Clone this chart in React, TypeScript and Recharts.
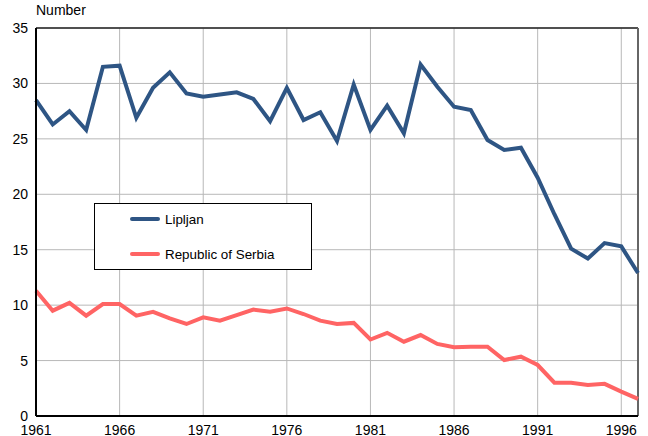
import React from 'react';
import {
  LineChart,
  Line,
  XAxis,
  YAxis,
  CartesianGrid,
  ReferenceLine,
} from 'recharts';

const years = [
  1961, 1962, 1963, 1964, 1965, 1966, 1967, 1968, 1969, 1970, 1971, 1972, 1973,
  1974, 1975, 1976, 1977, 1978, 1979, 1980, 1981, 1982, 1983, 1984, 1985, 1986,
  1987, 1988, 1989, 1990, 1991, 1992, 1993, 1994, 1995, 1996, 1997,
];

const lipljan = [
  28.5, 26.3, 27.5, 25.8, 31.5, 31.6, 26.9, 29.6, 31.0, 29.1, 28.8, 29.0, 29.2,
  28.6, 26.6, 29.6, 26.7, 27.4, 24.8, 29.9, 25.8, 28.0, 25.5, 31.7, 29.7, 27.9,
  27.6, 24.9, 24.0, 24.2, 21.5, 18.2, 15.1, 14.2, 15.6, 15.3, 12.9,
];

const serbia = [
  11.3, 9.5, 10.2, 9.05, 10.1, 10.1, 9.05, 9.4, 8.8, 8.3, 8.9, 8.6, 9.1, 9.6,
  9.4, 9.7, 9.2, 8.6, 8.3, 8.4, 6.9, 7.5, 6.7, 7.3, 6.5, 6.2, 6.25, 6.25, 5.05,
  5.35, 4.6, 3.0, 3.0, 2.8, 2.9, 2.2, 1.55,
];

const xTicks = [1961, 1966, 1971, 1976, 1981, 1986, 1991, 1996];
const yTicks = [0, 5, 10, 15, 20, 25, 30, 35];

const BLUE = '#2E5584';
const RED = '#FF6464';
const FONT = '"Liberation Sans", Arial, sans-serif';

const data = years.map((year, i) => ({
  year,
  lipljan: lipljan[i],
  serbia: serbia[i],
}));

const legendItems = [
  { name: 'Lipljan', color: BLUE },
  { name: 'Republic of Serbia', color: RED },
];

function LegendBox() {
  return (
    <div
      style={{
        position: 'absolute',
        left: 94,
        top: 203,
        width: 218,
        height: 67,
        border: '1px solid #000',
        background: '#fff',
        boxSizing: 'border-box',
        fontFamily: FONT,
        fontSize: 13.4,
        color: '#000',
      }}
    >
      {legendItems.map((item, i) => (
        <div
          key={item.name}
          style={{
            position: 'absolute',
            left: 35,
            top: i === 0 ? 7 : 42,
            display: 'flex',
            alignItems: 'center',
            height: 16,
          }}
        >
          <svg width={30} height={8} style={{ marginRight: 5 }}>
            <line
              x1={2}
              y1={4}
              x2={28}
              y2={4}
              stroke={item.color}
              strokeWidth={4}
              strokeLinecap="round"
            />
          </svg>
          <span>{item.name}</span>
        </div>
      ))}
    </div>
  );
}

export default function App() {
  return (
    <div
      style={{
        position: 'absolute',
        left: 0,
        top: 0,
        width: 648,
        height: 436,
        background: '#fff',
        fontFamily: FONT,
        overflow: 'hidden',
      }}
    >
      <div
        style={{
          position: 'absolute',
          left: 36,
          top: 2,
          fontSize: 14,
          color: '#000',
        }}
      >
        Number
      </div>
      <LineChart
        width={648}
        height={436}
        data={data}
        margin={{ top: 28, right: 10, bottom: 0, left: 0 }}
      >
        <CartesianGrid stroke="#b8b8b8" strokeWidth={1} />
        <XAxis
          dataKey="year"
          type="number"
          domain={[1961, 1997]}
          ticks={xTicks}
          interval={0}
          tickLine={false}
          tickSize={0}
          tickMargin={9}
          axisLine={{ stroke: '#000', strokeWidth: 2 }}
          tick={{ fill: '#000', fontSize: 14, fontFamily: FONT }}
          height={20}
        />
        <YAxis
          type="number"
          domain={[0, 35]}
          ticks={yTicks}
          interval={0}
          width={36}
          tickLine={false}
          tickSize={0}
          tickMargin={8}
          axisLine={{ stroke: '#000', strokeWidth: 2 }}
          tick={{ fill: '#000', fontSize: 14, fontFamily: FONT }}
        />
        <ReferenceLine y={35} stroke="#222" strokeWidth={1.5} />
        <ReferenceLine x={1997} stroke="#666" strokeWidth={2} />
        <Line
          dataKey="lipljan"
          stroke={BLUE}
          strokeWidth={4}
          dot={false}
          isAnimationActive={false}
        />
        <Line
          dataKey="serbia"
          stroke={RED}
          strokeWidth={4}
          dot={false}
          isAnimationActive={false}
        />
      </LineChart>
      <LegendBox />
    </div>
  );
}
